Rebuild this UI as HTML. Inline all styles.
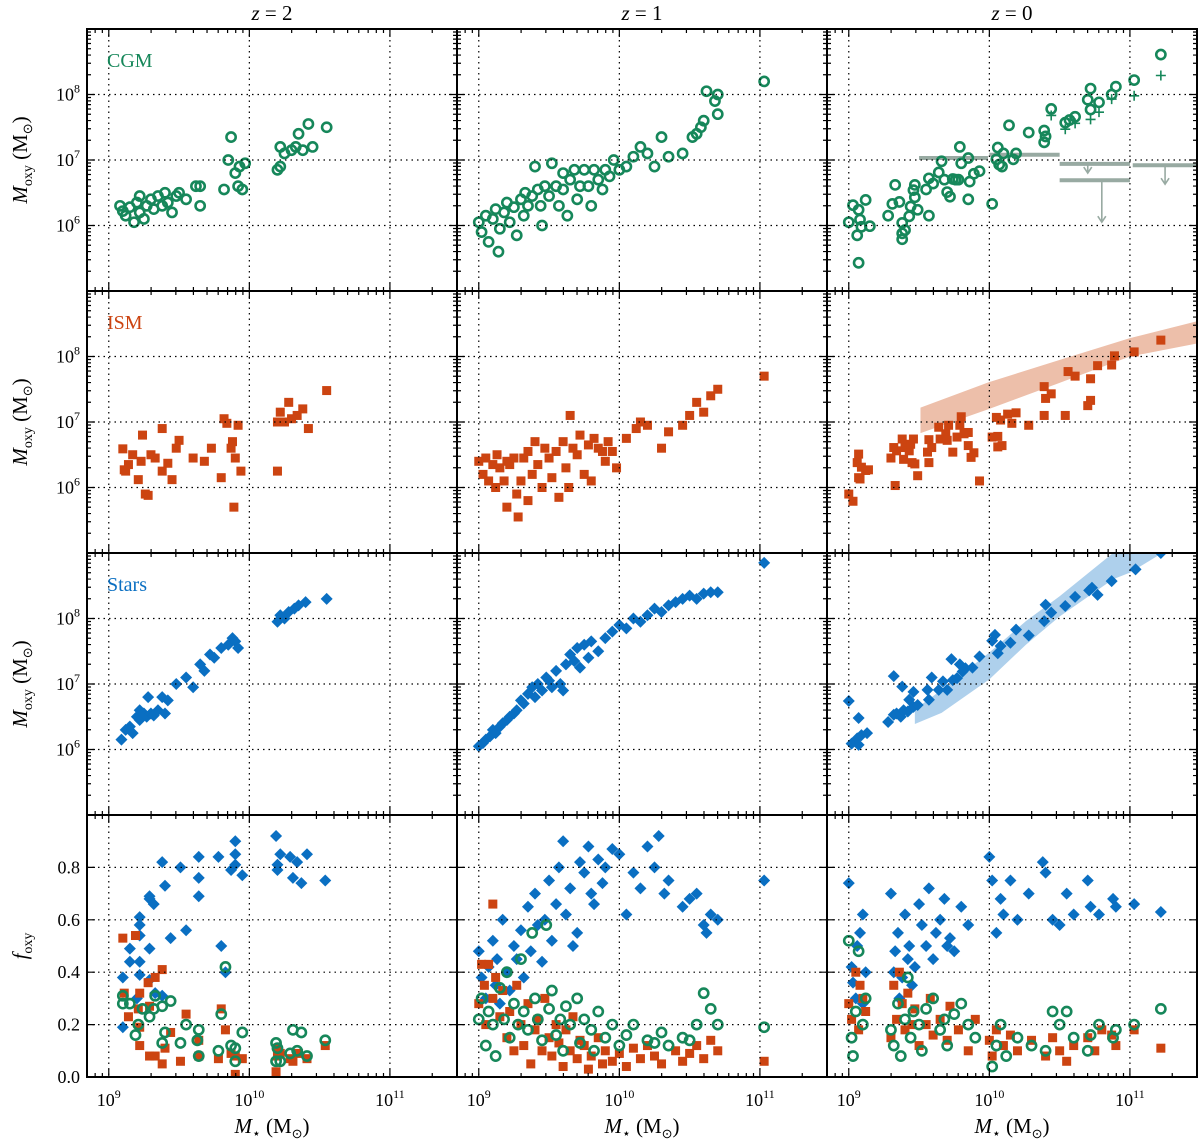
<!DOCTYPE html>
<html><head><meta charset="utf-8"><style>
html,body{margin:0;padding:0;background:#fff;}
svg{display:block;font-family:"Liberation Serif",serif;}
</style></head><body>
<svg id="fig" width="1200" height="1142" viewBox="0 0 1200 1142" xmlns="http://www.w3.org/2000/svg"></svg>
<script>
// ---------- DATA (log10 M*, log10 Moxy) ----------
const cgmZ2=[[9.08,6.3],[9.1,6.22],[9.12,6.15],[9.15,6.28],[9.18,6.05],[9.2,6.35],[9.22,6.45],[9.22,6.2],[9.25,6.1],[9.27,6.3],[9.3,6.4],[9.32,6.25],[9.35,6.45],[9.38,6.3],[9.4,6.5],[9.42,6.35],[9.45,6.2],[9.48,6.45],[9.5,6.5],[9.55,6.4],[9.62,6.6],[9.65,6.3],[9.65,6.6],[9.82,6.55],[9.85,7.0],[9.87,7.35],[9.9,6.8],[9.92,6.6],[9.93,6.9],[9.95,6.55],[9.97,6.95],[10.2,6.85],[10.22,6.9],[10.22,7.2],[10.25,7.1],[10.3,7.15],[10.33,7.2],[10.35,7.4],[10.38,7.15],[10.42,7.55],[10.45,7.2],[10.55,7.5]];
const cgmZ1=[[9.0,6.05],[9.02,5.9],[9.05,6.15],[9.07,5.75],[9.1,6.1],[9.12,6.25],[9.14,5.6],[9.15,5.95],[9.18,6.2],[9.2,6.35],[9.22,6.05],[9.25,6.28],[9.27,5.85],[9.3,6.4],[9.32,6.15],[9.33,6.5],[9.35,6.3],[9.38,6.45],[9.4,6.9],[9.42,6.55],[9.44,6.3],[9.45,6.0],[9.47,6.6],[9.5,6.45],[9.52,6.95],[9.55,6.6],[9.57,6.3],[9.6,6.8],[9.6,6.55],[9.63,6.15],[9.65,6.7],[9.68,6.85],[9.7,6.4],[9.72,6.6],[9.75,6.85],[9.78,6.6],[9.8,6.3],[9.82,6.85],[9.85,6.7],[9.88,6.55],[9.9,6.85],[9.93,6.75],[9.96,7.0],[10.0,6.85],[10.05,6.9],[10.1,7.05],[10.15,7.2],[10.2,7.1],[10.25,6.9],[10.3,7.35],[10.35,7.05],[10.45,7.1],[10.52,7.35],[10.55,7.4],[10.58,7.5],[10.6,7.6],[10.62,8.05],[10.68,7.9],[10.7,7.7],[10.7,8.0],[11.03,8.2]];
const cgmZ0=[[9.0,6.05],[9.03,6.31],[9.06,5.85],[9.07,6.24],[9.08,6.09],[9.09,5.98],[9.12,6.39],[9.15,5.99],[9.07,5.43],[9.28,6.15],[9.31,6.33],[9.33,6.62],[9.36,6.36],[9.38,6.04],[9.38,5.88],[9.38,5.79],[9.4,5.93],[9.43,6.14],[9.44,6.29],[9.46,6.54],[9.47,6.62],[9.47,6.43],[9.49,6.24],[9.55,6.55],[9.57,6.15],[9.57,6.72],[9.6,6.64],[9.64,6.81],[9.66,6.98],[9.68,6.7],[9.7,6.51],[9.72,6.44],[9.74,6.71],[9.76,6.7],[9.78,6.7],[9.79,7.2],[9.8,6.95],[9.85,7.03],[9.85,6.4],[9.86,6.67],[9.89,6.79],[9.93,6.83],[10.02,6.33],[10.06,7.19],[10.05,7.01],[10.07,6.93],[10.1,7.1],[10.09,6.9],[10.14,7.53],[10.17,7.01],[10.19,7.1],[10.28,7.42],[10.39,7.45],[10.4,7.36],[10.39,7.27],[10.44,7.78],[10.54,7.57],[10.57,7.61],[10.61,7.66],[10.7,7.92],[10.72,8.09],[10.72,7.77],[10.78,7.88],[10.87,8.0],[10.9,8.12],[11.03,8.22],[11.22,8.61]];
const cgmZ0plus=[[10.44,7.68],[10.54,7.47],[10.61,7.56],[10.72,7.62],[10.78,7.73],[10.87,7.93],[11.03,7.98],[11.22,8.29]];
// observational upper limits
const limX0=[9.5,10.0,10.5,10.5,11.02];
const limX1=[9.99,10.5,11.0,11.0,11.48];
const limY=[7.03,7.08,6.94,6.69,6.92];
const limArrowX=[null,null,10.7,10.8,11.25];
const limArrowY=[null,null,6.8,6.05,6.63];

const ismZ2=[[9.1,6.59],[9.11,6.27],[9.12,6.25],[9.14,6.35],[9.17,6.5],[9.21,6.12],[9.23,6.4],[9.24,6.8],[9.26,5.9],[9.28,5.88],[9.3,6.5],[9.33,6.45],[9.38,6.25],[9.38,6.9],[9.42,6.37],[9.48,6.6],[9.45,6.12],[9.5,6.72],[9.6,6.45],[9.68,6.4],[9.73,6.6],[9.8,6.15],[9.82,7.05],[9.84,6.98],[9.87,6.6],[9.88,6.7],[9.89,5.7],[9.9,6.45],[9.92,6.95],[9.94,6.25],[10.2,6.25],[10.2,7.0],[10.22,7.15],[10.25,7.0],[10.28,7.3],[10.3,7.05],[10.34,7.1],[10.38,7.2],[10.42,6.9],[10.55,7.48]];
const ismZ1=[[9.0,6.4],[9.03,6.2],[9.05,6.45],[9.07,6.1],[9.1,6.35],[9.12,6.0],[9.13,6.5],[9.15,6.3],[9.18,6.1],[9.2,5.7],[9.2,6.4],[9.22,6.35],[9.25,6.45],[9.27,5.9],[9.28,5.55],[9.3,6.1],[9.32,6.45],[9.35,6.55],[9.35,5.8],[9.38,6.2],[9.4,6.7],[9.42,6.35],[9.45,6.0],[9.47,6.6],[9.5,6.45],[9.52,6.15],[9.55,6.55],[9.57,5.85],[9.6,6.7],[9.62,6.3],[9.64,6.0],[9.65,7.1],[9.67,6.6],[9.7,6.5],[9.72,6.8],[9.75,6.2],[9.78,6.65],[9.8,6.1],[9.82,6.75],[9.85,6.6],[9.88,6.55],[9.9,6.4],[9.92,6.7],[9.95,6.55],[9.98,6.3],[10.05,6.75],[10.12,6.9],[10.15,7.0],[10.2,6.95],[10.3,6.6],[10.35,6.85],[10.45,6.95],[10.5,7.1],[10.55,7.3],[10.6,7.15],[10.65,7.4],[10.7,7.5],[11.03,7.7]];
const ismZ0=[[9.0,5.9],[9.03,5.79],[9.07,6.51],[9.06,6.38],[9.07,6.15],[9.09,6.31],[9.12,6.26],[9.14,6.27],[9.08,6.13],[9.33,6.03],[9.3,6.45],[9.32,6.61],[9.34,6.56],[9.38,6.74],[9.4,6.61],[9.39,6.43],[9.43,6.56],[9.45,6.38],[9.46,6.74],[9.47,6.36],[9.49,6.18],[9.44,6.66],[9.57,6.38],[9.56,6.54],[9.59,6.61],[9.57,6.73],[9.64,6.92],[9.65,6.74],[9.69,6.82],[9.71,6.95],[9.7,6.72],[9.74,6.54],[9.77,6.77],[9.8,7.08],[9.79,6.95],[9.82,6.82],[9.85,6.84],[9.85,6.64],[9.87,6.46],[9.89,6.53],[9.93,6.1],[10.02,6.77],[10.05,7.07],[10.06,6.78],[10.06,6.62],[10.09,6.64],[10.08,7.03],[10.13,7.12],[10.16,6.98],[10.19,7.14],[10.28,6.95],[10.39,7.54],[10.4,7.36],[10.44,7.43],[10.39,7.1],[10.54,7.1],[10.56,7.77],[10.61,7.7],[10.7,7.25],[10.72,7.33],[10.72,7.66],[10.77,7.86],[10.87,7.87],[10.89,8.01],[11.03,8.07],[11.22,8.25]];
const ismBandX=[9.51,10.0,10.49,11.0,11.48];
const ismBandLo=[6.83,7.2,7.59,8.0,8.2];
const ismBandHi=[7.22,7.61,7.94,8.28,8.54];

const starsZ2=[[9.09,6.15],[9.12,6.3],[9.15,6.35],[9.17,6.25],[9.2,6.5],[9.22,6.6],[9.22,6.45],[9.25,6.55],[9.27,6.5],[9.28,6.8],[9.3,6.55],[9.32,6.52],[9.35,6.6],[9.38,6.8],[9.4,6.55],[9.42,6.75],[9.48,7.0],[9.55,7.1],[9.6,6.95],[9.65,7.3],[9.68,7.2],[9.72,7.45],[9.75,7.4],[9.8,7.55],[9.85,7.6],[9.88,7.7],[9.9,7.65],[9.92,7.55],[10.2,7.95],[10.22,8.05],[10.25,8.0],[10.28,8.1],[10.32,8.15],[10.35,8.2],[10.4,8.25],[10.55,8.3]];
const starsZ1=[[9.0,6.05],[9.03,6.1],[9.05,6.15],[9.08,6.2],[9.1,6.3],[9.12,6.25],[9.15,6.35],[9.17,6.4],[9.2,6.45],[9.22,6.5],[9.25,6.55],[9.27,6.6],[9.3,6.75],[9.32,6.7],[9.35,6.85],[9.38,6.95],[9.4,6.8],[9.42,7.0],[9.45,6.9],[9.48,7.1],[9.5,7.05],[9.52,6.95],[9.55,7.2],[9.58,7.0],[9.6,6.9],[9.62,7.3],[9.65,7.45],[9.68,7.35],[9.7,7.55],[9.72,7.25],[9.75,7.6],[9.78,7.4],[9.8,7.65],[9.85,7.5],[9.9,7.7],[9.95,7.8],[10.0,7.9],[10.05,7.85],[10.1,8.0],[10.15,7.95],[10.2,8.05],[10.25,8.15],[10.3,8.1],[10.35,8.2],[10.4,8.25],[10.45,8.3],[10.5,8.35],[10.55,8.3],[10.6,8.38],[10.65,8.4],[10.7,8.4],[11.03,8.85]];
const starsZ0=[[9.0,6.74],[9.02,6.09],[9.06,6.17],[9.07,6.48],[9.07,6.07],[9.09,6.22],[9.13,6.25],[9.28,6.42],[9.32,7.12],[9.32,6.53],[9.34,6.55],[9.37,6.5],[9.38,6.96],[9.39,6.6],[9.42,6.58],[9.43,6.76],[9.46,6.88],[9.46,6.65],[9.49,6.68],[9.56,6.91],[9.57,6.76],[9.59,7.1],[9.64,6.91],[9.67,7.04],[9.7,6.91],[9.73,7.38],[9.74,7.06],[9.77,7.09],[9.79,7.3],[9.81,7.19],[9.83,7.24],[9.88,7.25],[9.93,7.42],[10.02,7.66],[10.04,7.75],[10.06,7.47],[10.08,7.58],[10.15,7.63],[10.19,7.83],[10.28,7.74],[10.39,7.96],[10.4,8.21],[10.44,8.09],[10.54,8.19],[10.61,8.33],[10.71,8.43],[10.73,8.47],[10.77,8.36],[10.87,8.57],[11.04,8.75],[11.22,9.0]];
const starBandX=[9.47,9.66,10.0,10.26,10.5,10.88,11.0,11.23];
const starBandLo=[6.39,6.56,7.07,7.6,8.03,8.6,8.7,9.0];
const starBandHi=[6.61,6.91,7.48,7.96,8.34,9.0,9.1,9.4];

// fractions [log M*, f]
const fStarsZ2=[[9.1,0.38],[9.1,0.19],[9.15,0.49],[9.15,0.44],[9.22,0.61],[9.22,0.58],[9.22,0.54],[9.22,0.44],[9.22,0.39],[9.2,0.3],[9.29,0.69],[9.29,0.68],[9.29,0.49],[9.29,0.37],[9.32,0.66],[9.33,0.32],[9.38,0.82],[9.4,0.73],[9.38,0.31],[9.44,0.53],[9.51,0.8],[9.55,0.56],[9.64,0.84],[9.64,0.76],[9.64,0.69],[9.78,0.84],[9.8,0.5],[9.83,0.4],[9.87,0.79],[9.9,0.9],[9.9,0.85],[9.9,0.81],[9.95,0.77],[10.19,0.92],[10.22,0.85],[10.2,0.81],[10.2,0.79],[10.29,0.84],[10.31,0.76],[10.34,0.82],[10.37,0.74],[10.41,0.85],[10.54,0.75]];
const fIsmZ2=[[9.1,0.53],[9.11,0.32],[9.14,0.23],[9.19,0.54],[9.21,0.26],[9.22,0.32],[9.22,0.19],[9.22,0.12],[9.28,0.36],[9.29,0.27],[9.29,0.08],[9.33,0.38],[9.33,0.08],[9.38,0.41],[9.38,0.05],[9.4,0.11],[9.44,0.17],[9.51,0.06],[9.55,0.24],[9.64,0.14],[9.64,0.08],[9.78,0.07],[9.8,0.26],[9.83,0.18],[9.87,0.09],[9.9,0.01],[9.9,0.08],[9.95,0.07],[10.19,0.02],[10.2,0.11],[10.2,0.08],[10.22,0.09],[10.29,0.07],[10.31,0.06],[10.35,0.09],[10.41,0.07],[10.54,0.12]];
const fCgmZ2=[[9.1,0.28],[9.1,0.31],[9.15,0.28],[9.19,0.16],[9.21,0.2],[9.24,0.26],[9.29,0.23],[9.32,0.26],[9.33,0.31],[9.38,0.27],[9.38,0.13],[9.4,0.17],[9.44,0.29],[9.51,0.13],[9.55,0.2],[9.64,0.18],[9.63,0.14],[9.64,0.08],[9.78,0.1],[9.8,0.24],[9.83,0.42],[9.87,0.12],[9.9,0.11],[9.9,0.06],[9.95,0.17],[10.19,0.13],[10.2,0.11],[10.19,0.06],[10.22,0.06],[10.29,0.09],[10.31,0.18],[10.34,0.1],[10.37,0.17],[10.41,0.08],[10.54,0.14]];
const fStarsZ1=[[9.0,0.48],[9.02,0.38],[9.05,0.3],[9.07,0.42],[9.1,0.52],[9.12,0.35],[9.13,0.45],[9.15,0.28],[9.17,0.6],[9.2,0.4],[9.22,0.33],[9.25,0.5],[9.27,0.45],[9.3,0.56],[9.32,0.38],[9.35,0.65],[9.37,0.48],[9.4,0.7],[9.42,0.58],[9.45,0.44],[9.47,0.6],[9.5,0.75],[9.52,0.52],[9.55,0.66],[9.57,0.8],[9.6,0.9],[9.62,0.62],[9.65,0.72],[9.67,0.5],[9.7,0.55],[9.72,0.82],[9.75,0.78],[9.78,0.88],[9.8,0.7],[9.82,0.66],[9.85,0.83],[9.88,0.74],[9.9,0.8],[9.95,0.87],[10.0,0.85],[10.05,0.62],[10.1,0.78],[10.15,0.72],[10.2,0.88],[10.25,0.8],[10.28,0.92],[10.32,0.7],[10.35,0.75],[10.45,0.65],[10.5,0.68],[10.55,0.7],[10.6,0.58],[10.62,0.55],[10.65,0.62],[10.7,0.6],[11.03,0.75]];
const fIsmZ1=[[9.0,0.28],[9.02,0.43],[9.04,0.35],[9.05,0.2],[9.07,0.43],[9.1,0.3],[9.1,0.66],[9.12,0.38],[9.15,0.23],[9.17,0.33],[9.2,0.15],[9.22,0.25],[9.25,0.1],[9.27,0.35],[9.3,0.2],[9.32,0.12],[9.35,0.28],[9.37,0.05],[9.4,0.18],[9.42,0.22],[9.45,0.1],[9.47,0.3],[9.5,0.15],[9.52,0.08],[9.55,0.2],[9.57,0.13],[9.6,0.04],[9.62,0.18],[9.65,0.1],[9.67,0.23],[9.7,0.07],[9.72,0.14],[9.75,0.12],[9.78,0.03],[9.8,0.08],[9.85,0.15],[9.88,0.05],[9.9,0.1],[9.95,0.06],[10.0,0.09],[10.05,0.04],[10.1,0.11],[10.15,0.07],[10.2,0.12],[10.25,0.08],[10.3,0.05],[10.4,0.1],[10.45,0.06],[10.5,0.09],[10.55,0.12],[10.6,0.07],[10.65,0.14],[10.7,0.1],[11.03,0.06]];
const fCgmZ1=[[9.0,0.22],[9.02,0.3],[9.05,0.12],[9.07,0.25],[9.1,0.2],[9.12,0.08],[9.15,0.34],[9.18,0.22],[9.2,0.4],[9.22,0.15],[9.25,0.28],[9.28,0.2],[9.3,0.45],[9.32,0.25],[9.35,0.18],[9.38,0.55],[9.4,0.3],[9.42,0.22],[9.45,0.14],[9.48,0.58],[9.5,0.26],[9.52,0.33],[9.55,0.16],[9.58,0.22],[9.6,0.1],[9.62,0.27],[9.65,0.2],[9.7,0.3],[9.72,0.13],[9.75,0.22],[9.8,0.18],[9.82,0.1],[9.85,0.25],[9.9,0.15],[9.95,0.2],[10.0,0.12],[10.05,0.16],[10.1,0.2],[10.2,0.14],[10.25,0.13],[10.3,0.17],[10.35,0.12],[10.45,0.15],[10.5,0.14],[10.55,0.2],[10.6,0.32],[10.65,0.26],[10.7,0.2],[11.03,0.19]];
const fStarsZ0=[[9.0,0.74],[9.02,0.42],[9.03,0.36],[9.05,0.3],[9.06,0.5],[9.08,0.55],[9.1,0.28],[9.1,0.62],[9.12,0.4],[9.3,0.7],[9.32,0.4],[9.33,0.48],[9.35,0.55],[9.36,0.3],[9.38,0.38],[9.4,0.62],[9.42,0.45],[9.43,0.5],[9.45,0.35],[9.47,0.42],[9.5,0.66],[9.52,0.58],[9.55,0.5],[9.57,0.72],[9.6,0.45],[9.62,0.55],[9.65,0.6],[9.68,0.68],[9.7,0.5],[9.72,0.53],[9.75,0.48],[9.8,0.65],[9.85,0.58],[10.0,0.84],[10.02,0.75],[10.05,0.55],[10.08,0.68],[10.1,0.62],[10.15,0.75],[10.2,0.6],[10.28,0.7],[10.38,0.82],[10.4,0.78],[10.45,0.6],[10.5,0.58],[10.55,0.7],[10.6,0.62],[10.7,0.75],[10.72,0.65],[10.78,0.62],[10.88,0.68],[10.9,0.65],[11.03,0.66],[11.22,0.63]];
const fIsmZ0=[[9.0,0.28],[9.02,0.22],[9.05,0.4],[9.07,0.18],[9.08,0.35],[9.1,0.3],[9.12,0.25],[9.3,0.15],[9.32,0.35],[9.34,0.22],[9.36,0.4],[9.38,0.28],[9.4,0.18],[9.42,0.32],[9.45,0.2],[9.47,0.26],[9.5,0.12],[9.55,0.2],[9.58,0.3],[9.6,0.16],[9.65,0.22],[9.7,0.14],[9.72,0.27],[9.78,0.18],[9.85,0.1],[9.9,0.22],[10.0,0.14],[10.02,0.08],[10.05,0.18],[10.1,0.12],[10.15,0.16],[10.2,0.1],[10.3,0.14],[10.4,0.08],[10.45,0.15],[10.5,0.1],[10.55,0.06],[10.6,0.12],[10.7,0.15],[10.75,0.1],[10.8,0.18],[10.87,0.16],[10.9,0.12],[11.03,0.18],[11.22,0.11]];
const fCgmZ0=[[9.0,0.52],[9.02,0.15],[9.03,0.08],[9.05,0.25],[9.07,0.48],[9.1,0.2],[9.12,0.3],[9.3,0.18],[9.32,0.12],[9.35,0.28],[9.37,0.08],[9.4,0.22],[9.42,0.38],[9.44,0.15],[9.46,0.25],[9.5,0.2],[9.52,0.1],[9.55,0.26],[9.6,0.3],[9.65,0.18],[9.68,0.22],[9.7,0.12],[9.75,0.24],[9.8,0.28],[9.85,0.2],[9.9,0.15],[10.02,0.04],[10.05,0.12],[10.08,0.2],[10.12,0.08],[10.2,0.15],[10.3,0.12],[10.4,0.1],[10.45,0.25],[10.5,0.2],[10.55,0.25],[10.6,0.15],[10.7,0.1],[10.72,0.16],[10.78,0.2],[10.88,0.15],[10.9,0.18],[11.03,0.2],[11.22,0.26]];

const colTitles=['2','1','0'];
const massTicks=[6,7,8];
const fracTicks=[0,0.2,0.4,0.6,0.8];
const fracTickLabels=['0.0','0.2','0.4','0.6','0.8'];
const xTicks=[9,10,11];

// ---------- RENDER ----------
const NS='http://www.w3.org/2000/svg';
const svg=document.getElementById('fig');
const colLeft=[87,457,827], PW=370, rowTop=[29,291,553,815], PH=262;
const XMIN=Math.log10(7e8), XMAX=Math.log10(3e11);
const GREEN='#16875a', RED='#cc4411', BLUE='#0a6fc2', GREY='#98aaa2';
function el(tag,attrs,parent){const e=document.createElementNS(NS,tag);for(const k in attrs)e.setAttribute(k,attrs[k]);(parent||svg).appendChild(e);return e;}
function xs(c,l){return colLeft[c]+(l-XMIN)/(XMAX-XMIN)*PW;}
function ym(r,l){return rowTop[r]+(9-l)/4*PH;}
function yf(r,f){return rowTop[r]+(1-f)*PH;}

function clipFor(c,r){const id='clip'+c+r;const cp=el('clipPath',{id:id});el('rect',{x:colLeft[c],y:rowTop[r],width:PW,height:PH},cp);return 'url(#'+id+')';}

function circle(g,x,y,color){const e=el('circle',{cx:x,cy:y,r:4.6,fill:'none',stroke:color,'stroke-width':2.6},g);

}
function square(g,x,y){const e=el('rect',{x:x-4.5,y:y-4.5,width:9,height:9,fill:RED},g);

}
function diamond(g,x,y){const e=el('polygon',{points:`${x},${y-6} ${x+6},${y} ${x},${y+6} ${x-6},${y}`,fill:BLUE},g);

}
function plus(g,x,y){const e=el('path',{d:`M${x-5},${y}H${x+5}M${x},${y-5}V${y+5}`,stroke:GREEN,'stroke-width':1.6,fill:'none'},g);

}
function band(g,c,r,xa,lo,hi,color,name){
  let d='M'+xa.map((x,i)=>xs(c,x)+','+ym(r,hi[i])).join('L');
  for(let i=xa.length-1;i>=0;i--)d+='L'+xs(c,xa[i])+','+ym(r,lo[i]);
  const e=el('path',{d:d+'Z',fill:color,stroke:'none'},g);
  
  
}

function axes(c,r,isFrac){
  const g=el('g',{});
  
  
  const L=colLeft[c],T=rowTop[r],R=L+PW,B=T+PH;
  xTicks.forEach(t=>{const x=xs(c,t);el('line',{x1:x,y1:T,x2:x,y2:B,stroke:'#000','stroke-width':1.2,'stroke-dasharray':'1.5,4'},g);});
  if(isFrac){fracTicks.forEach(t=>{if(t===0)return;const y=yf(r,t);el('line',{x1:L,y1:y,x2:R,y2:y,stroke:'#000','stroke-width':1.2,'stroke-dasharray':'1.5,4'},g);});}
  else massTicks.forEach(t=>{const y=ym(r,t);el('line',{x1:L,y1:y,x2:R,y2:y,stroke:'#000','stroke-width':1.2,'stroke-dasharray':'1.5,4'},g);});
  let d='';
  for(let dec=8;dec<=11;dec++)for(let m=1;m<=9;m++){const l=dec+Math.log10(m);if(l<XMIN||l>XMAX)continue;const x=xs(c,l);const len=m===1?8:4;d+=`M${x},${B}v${-len}M${x},${T}v${len}`;}
  if(isFrac){fracTicks.forEach(t=>{const y=yf(r,t);d+=`M${L},${y}h8M${R},${y}h-8`;});}
  else for(let dec=5;dec<=8;dec++)for(let m=1;m<=9;m++){const l=dec+Math.log10(m);const y=ym(r,l);const len=m===1?8:4;d+=`M${L},${y}h${len}M${R},${y}h${-len}`;}
  el('path',{d:d,stroke:'#000','stroke-width':1.2,fill:'none'},g);
  el('rect',{x:L,y:T,width:PW,height:PH,fill:'none',stroke:'#000','stroke-width':2},g);
}

const cgmSets=[cgmZ2,cgmZ1,cgmZ0], ismSets=[ismZ2,ismZ1,ismZ0], starSets=[starsZ2,starsZ1,starsZ0];
const fS=[fStarsZ2,fStarsZ1,fStarsZ0], fI=[fIsmZ2,fIsmZ1,fIsmZ0], fC=[fCgmZ2,fCgmZ1,fCgmZ0];
for(let c=0;c<3;c++){
  let g=el('g',{'clip-path':clipFor(c,0)});
  
  
  if(c===2){
    for(let i=0;i<limY.length;i++){
      const y=ym(0,limY[i]);
      const ln=el('line',{x1:xs(c,limX0[i]),y1:y,x2:xs(c,limX1[i]),y2:y,stroke:GREY,'stroke-width':4},g);
      
      
      if(limArrowX[i]!==null){const ax=xs(c,limArrowX[i]),ay=ym(0,limArrowY[i]);
        el('path',{d:`M${ax},${y}V${ay}M${ax-4},${ay-6}L${ax},${ay}L${ax+4},${ay-6}`,stroke:GREY,'stroke-width':1.6,fill:'none'},g);}
    }
    cgmZ0plus.forEach(p=>plus(g,xs(c,p[0]),ym(0,p[1])));
  }
  cgmSets[c].forEach(p=>circle(g,xs(c,p[0]),ym(0,p[1]),GREEN));
  axes(c,0,false);
  g=el('g',{'clip-path':clipFor(c,1)});
  
  
  if(c===2)band(g,c,1,ismBandX,ismBandLo,ismBandHi,'#edbfaa','ism-observed-band');
  ismSets[c].forEach(p=>square(g,xs(c,p[0]),ym(1,p[1])));
  axes(c,1,false);
  g=el('g',{'clip-path':clipFor(c,2)});
  
  
  if(c===2)band(g,c,2,starBandX,starBandLo,starBandHi,'#aed0ec','stars-observed-band');
  starSets[c].forEach(p=>diamond(g,xs(c,p[0]),ym(2,p[1])));
  axes(c,2,false);
  g=el('g',{'clip-path':clipFor(c,3)});
  
  
  fS[c].forEach(p=>diamond(g,xs(c,p[0]),yf(3,p[1])));
  fI[c].forEach(p=>square(g,xs(c,p[0]),yf(3,p[1])));
  fC[c].forEach(p=>circle(g,xs(c,p[0]),yf(3,p[1]),GREEN));
  axes(c,3,true);
  const t=el('text',{x:colLeft[c]+PW/2,y:20,'font-size':21,'text-anchor':'middle'});
  
  
  t.innerHTML='<tspan font-style="italic">z</tspan> = '+colTitles[c];
  xTicks.forEach(v=>{const tx=el('text',{x:xs(c,v),y:1106,'font-size':18,'text-anchor':'middle'});
    
    
    tx.innerHTML='10<tspan font-size="12" dy="-8">'+v+'</tspan>';});
  const xt=el('text',{x:colLeft[c]+PW/2,y:1133,'font-size':21,'text-anchor':'middle'});
  
  
  xt.innerHTML='<tspan font-style="italic">M</tspan><tspan font-size="14" dy="5">⋆</tspan><tspan dy="-5"> (M</tspan><tspan font-size="13" dy="5">⊙</tspan><tspan dy="-5">)</tspan>';
}
for(let r=0;r<3;r++){
  massTicks.forEach(v=>{const t=el('text',{x:80,y:ym(r,v)+6,'font-size':18,'text-anchor':'end'});
    
    
    t.innerHTML='10<tspan font-size="12" dy="-8">'+v+'</tspan>';});
  const yt=el('text',{x:0,y:0,'font-size':21,'text-anchor':'middle',transform:`translate(27,${rowTop[r]+PH/2}) rotate(-90)`});
  
  
  yt.innerHTML='<tspan font-style="italic">M</tspan><tspan font-size="14" dy="5">oxy</tspan><tspan dy="-5"> (M</tspan><tspan font-size="13" dy="5">⊙</tspan><tspan dy="-5">)</tspan>';
}
fracTicks.forEach((v,i)=>{const t=el('text',{x:80,y:yf(3,v)+6,'font-size':18,'text-anchor':'end'});
  
  
  t.textContent=fracTickLabels[i];});
const ft=el('text',{x:0,y:0,'font-size':21,'text-anchor':'middle',transform:`translate(27,${rowTop[3]+PH/2}) rotate(-90)`});


ft.innerHTML='<tspan font-style="italic">f</tspan><tspan font-size="14" dy="5">oxy</tspan>';
[['CGM',GREEN,0],['ISM',RED,1],['Stars',BLUE,2]].forEach(a=>{const t=el('text',{x:107,y:rowTop[a[2]]+38,'font-size':20,fill:a[1]});
  
  
  t.textContent=a[0];});
</script>
</body></html>
